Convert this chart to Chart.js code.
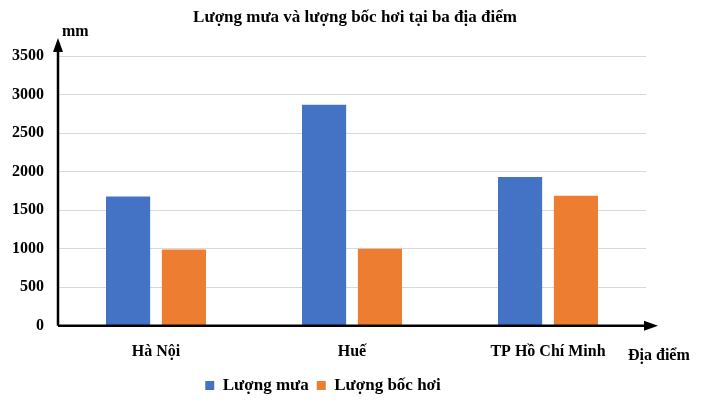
<!DOCTYPE html>
<html>
<head>
<meta charset="utf-8">
<script src="https://cdn.jsdelivr.net/npm/chart.js@4"></script>
<style>
  body { margin: 0; background: #fff; }
  #wrap { width: 711px; height: 404px; }
</style>
</head>
<body>
<div id="wrap"><canvas id="chart"></canvas></div>
<script>
const categories = ["Hà Nội", "Huế", "TP Hồ Chí Minh"];
const luongMua = [1676, 2868, 1931];
const luongBocHoi = [989, 1000, 1686];
const yTicks = [0, 500, 1000, 1500, 2000, 2500, 3000, 3500];

const serif = "'Liberation Serif', 'Times New Roman', serif";

// title, axis arrows and axis names
const decor = {
    id: "decor",
    afterDraw(chart) {
        const { ctx, chartArea: a } = chart;
        ctx.save();
        ctx.fillStyle = "#000";
        ctx.strokeStyle = "#000";
        ctx.lineWidth = 2.5;
        ctx.font = "bold 17px " + serif;
        ctx.textAlign = "center";
        ctx.textBaseline = "middle";
        ctx.fillText("Lượng mưa và lượng bốc hơi tại ba địa điểm", 355, 18);

        // y axis
        ctx.beginPath();
        ctx.moveTo(a.left, a.bottom);
        ctx.lineTo(a.left, 48);
        ctx.stroke();
        ctx.beginPath();
        ctx.moveTo(a.left, 38);
        ctx.lineTo(a.left - 5, 52);
        ctx.lineTo(a.left + 5, 52);
        ctx.closePath();
        ctx.fill();
        // x axis
        ctx.beginPath();
        ctx.moveTo(a.left, a.bottom);
        ctx.lineTo(a.right + 2, a.bottom);
        ctx.stroke();
        ctx.beginPath();
        ctx.moveTo(a.right + 12, a.bottom);
        ctx.lineTo(a.right - 2, a.bottom - 5);
        ctx.lineTo(a.right - 2, a.bottom + 5);
        ctx.closePath();
        ctx.fill();

        ctx.font = "bold 16px " + serif;
        ctx.textAlign = "left";
        ctx.fillText("mm", 62, 32);
        ctx.fillText("Địa điểm", 628, 356);
        ctx.restore();
    }
};

new Chart(document.getElementById("chart"), {
    type: "bar",
    data: {
        labels: categories,
        datasets: [
            { label: "Lượng mưa", data: luongMua, backgroundColor: "#4472C4" },
            { label: "Lượng bốc hơi", data: luongBocHoi, backgroundColor: "#ED7D31" }
        ]
    },
    options: {
        responsive: true,
        maintainAspectRatio: false,
        animation: false,
        categoryPercentage: 0.57,
        barPercentage: 0.79,
        layout: { padding: { top: 56, right: 65, left: 0, bottom: 0 } },
        plugins: {
            legend: {
                position: "bottom",
                labels: {
                    color: "#000",
                    font: { family: serif, size: 17, weight: "bold" },
                    boxWidth: 9, boxHeight: 9, padding: 8
                }
            },
            tooltip: { enabled: false }
        },
        scales: {
            x: {
                grid: { display: false },
                border: { display: false },
                ticks: { color: "#000", font: { family: serif, size: 16, weight: "bold" }, padding: 8 }
            },
            y: {
                min: 0, max: 3500,
                afterFit(scale) { scale.width = 58; },
                afterBuildTicks(scale) { scale.ticks = yTicks.map(v => ({ value: v })); },
                grid: { color: "#d9d9d9", drawTicks: false },
                border: { display: false },
                ticks: {
                    color: "#000", font: { family: serif, size: 16, weight: "bold" }, padding: 14,
                    callback: v => String(v)
                }
            }
        }
    },
    plugins: [decor]
});
</script>
</body>
</html>
